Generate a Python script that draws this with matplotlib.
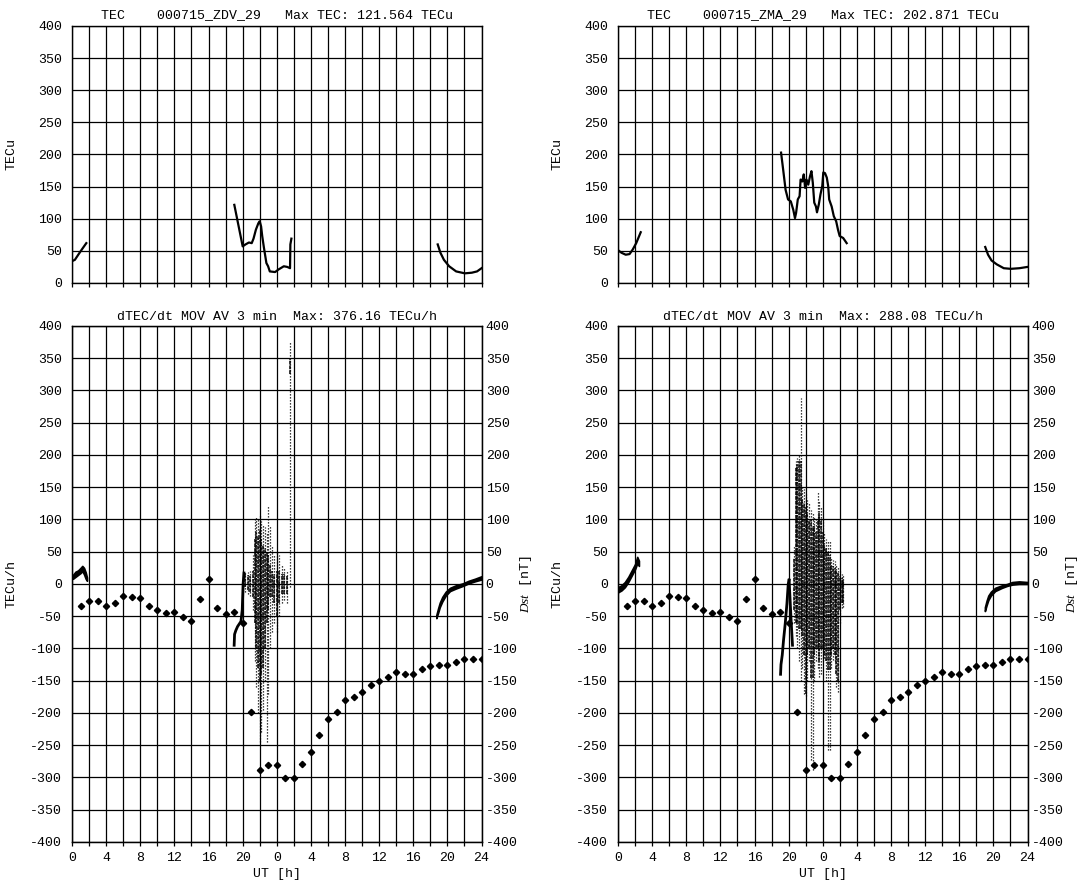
import numpy as np
import matplotlib
matplotlib.use("Agg")
import matplotlib.pyplot as plt
from matplotlib.ticker import MultipleLocator, FuncFormatter

plt.rcParams['font.family'] = ['Liberation Mono', 'DejaVu Sans Mono']
plt.rcParams['font.size'] = 9.5
plt.rcParams['axes.unicode_minus'] = False
plt.rcParams['mathtext.fontset'] = 'custom'
plt.rcParams['mathtext.it'] = 'Liberation Serif:italic'

# time axis: hours since 00 UT 15 July 2000 (two days)
dst_t = list(range(1, 49))
dst_nT = [-34, -26, -26, -34, -29, -19, -20, -22, -34, -40, -45, -43,
          -51, -58, -23, 7, -38, -46, -44, -61, -199, -289, -281, -281,
          -301, -301, -279, -260, -234, -209, -198, -180, -176, -167, -157, -150,
          -144, -137, -139, -139, -132, -127, -126, -125, -121, -117, -117, -117]

# ---- ZDV ----
zdv_title = "TEC    000715_ZDV_29   Max TEC: 121.564 TECu"
zdv_dtitle = "dTEC/dt MOV AV 3 min  Max: 376.16 TECu/h"
zdv_tec_t = [[0.0, 0.33, 0.73, 1.14, 1.67],
             [19.02, 20.0, 20.33, 20.73, 21.06, 21.27, 21.55, 21.84, 22.0, 22.16, 22.29,
              22.49, 22.78, 22.98, 23.18, 23.8, 24.2, 24.82, 25.22, 25.55, 25.59, 25.71],
             [42.86, 43.18, 43.59, 44.2, 45.02, 46.04, 46.86, 47.47, 48.0]]
zdv_tec_v = [[34, 36, 44, 52, 62],
             [121.6, 57, 60, 63, 62, 69, 83, 93, 96, 88, 73,
              55, 31, 26, 18, 17, 21, 26, 25, 23, 60, 69],
             [60, 47, 36, 26, 18, 15, 16, 18, 23]]

# dTEC/dt: thick bands (t, upper, lower)
zdv_band_t = [[0.1, 0.4, 0.7, 1.0, 1.2, 1.4, 1.6, 1.75],
              [42.7, 42.9, 43.1, 43.4, 43.8, 44.3, 45.0, 45.8, 46.5, 47.2, 48.0]]
zdv_band_hi = [[14, 19, 21, 25, 28, 25, 18, 10],
               [-48, -38, -29, -20, -12, -6, -2, 1, 5, 8, 12]]
zdv_band_lo = [[8, 11, 14, 17, 20, 15, 8, 5],
               [-53, -45, -36, -27, -18, -11, -7, -3, 1, 4, 7]]
zdv_trace_t = [[19.0, 19.05, 19.2, 19.4, 19.6, 19.8, 19.95, 20.05, 20.15]]
zdv_trace_v = [[-95, -78, -72, -66, -62, -58, -40, 0, 17]]
# dTEC/dt scatter columns during the storm
zdv_col_t = [20.3, 20.6, 20.9, 21.2, 21.4, 21.6, 21.8, 22.0, 22.2, 22.4, 22.6,
             22.8, 23.0, 23.2, 23.4, 23.7, 24.0, 24.3, 24.6, 24.9, 25.2, 25.5]
zdv_sparse_hi = [19, 18, 20, 45, 100, 104, 100, 108, 98, 92, 88,
                 80, 121, 90, 60, 45, 50, 45, 30, 25, 22, 376]
zdv_sparse_lo = [-12, -15, -18, -40, -120, -160, -200, -245, -230, -195, -150,
                 -245, -170, -100, -75, -60, -74, -50, -30, -25, -30, -5]
zdv_dense_hi = [17, 14, 13, 20, 70, 80, 75, 85, 70, 60, 55,
                50, 45, 30, 20, 15, 20, 20, 15, 15, 12, 350]
zdv_dense_lo = [-5, -10, -12, -20, -60, -100, -130, -150, -140, -130, -100,
                -60, -40, -20, -20, -30, -50, -30, -15, -15, -15, 325]

# ---- ZMA ----
zma_title = "TEC    000715_ZMA_29   Max TEC: 202.871 TECu"
zma_dtitle = "dTEC/dt MOV AV 3 min  Max: 288.08 TECu/h"
zma_tec_t = [[0.0, 0.41, 0.9, 1.35, 1.72, 2.13, 2.66],
             [19.11, 19.35, 19.64, 19.93, 20.25, 20.54, 20.74, 20.87, 21.07, 21.28, 21.4,
              21.6, 21.77, 21.93, 22.09, 22.3, 22.5, 22.67, 22.83, 23.0, 23.2, 23.32,
              23.53, 23.73, 23.94, 24.06, 24.26, 24.47, 24.63, 24.75, 25.04, 25.29,
              25.57, 25.78, 25.98, 26.39, 26.8],
             [43.04, 43.37, 43.78, 44.39, 45.21, 46.03, 47.05, 48.0]]
zma_tec_v = [[51, 47, 44, 45, 52, 62, 79],
             [202.9, 177, 145, 130, 127, 114, 101, 109, 130, 135, 161,
              158, 169, 148, 161, 153, 166, 174, 156, 125, 119, 110,
              122, 138, 151, 172, 171, 164, 151, 130, 119, 104,
              96, 83, 73, 70, 62],
             [56, 44, 35, 29, 23, 22, 23, 25]]

zma_band_t = [[0.0, 0.4, 0.8, 1.2, 1.6, 2.0, 2.25, 2.45],
              [43.0, 43.2, 43.4, 43.7, 44.2, 45.0, 45.6, 46.2, 47.0, 48.0]]
zma_band_hi = [[-5, -2, 3, 11, 21, 31, 42, 36],
               [-36, -26, -18, -12, -6, -2, 0, 3, 4, 3]]
zma_band_lo = [[-13, -10, -5, 3, 13, 23, 32, 28],
               [-42, -33, -25, -18, -11, -6, -3, -1, 0, 0]]
zma_trace_t = [[19.05, 19.1, 19.25, 19.4, 19.6, 19.8, 19.95, 20.05],
               [20.05, 20.15, 20.3, 20.45]]
zma_trace_v = [[-140, -125, -110, -87, -61, -30, 0, 6],
               [6, -20, -60, -95]]
zma_col_t = [20.6, 20.85, 21.0, 21.2, 21.4, 21.6, 21.8, 22.0, 22.2, 22.4, 22.6,
             22.8, 23.0, 23.2, 23.4, 23.6, 23.8, 24.0, 24.2, 24.4, 24.6, 24.8,
             25.0, 25.2, 25.4, 25.6, 25.8, 26.0, 26.2, 26.4]
zma_sparse_hi = [60, 190, 195, 200, 288, 150, 148, 140, 130, 125, 115,
                 110, 105, 100, 142, 130, 120, 100, 79, 70, 68, 68,
                 40, 37, 35, 30, 27, 20, 16, 15]
zma_sparse_lo = [-60, -80, -100, -120, -150, -130, -170, -173, -150, -120, -273,
                 -289, -150, -120, -130, -145, -140, -120, -115, -150, -257, -257,
                 -130, -118, -120, -160, -167, -60, -38, -35]
zma_dense_hi = [40, 180, 185, 190, 190, 130, 125, 120, 110, 100, 100,
                90, 90, 80, 100, 110, 100, 80, 60, 55, 50, 45,
                30, 28, 25, 20, 18, 12, 10, 8]
zma_dense_lo = [-40, -60, -60, -70, -70, -80, -110, -170, -110, -100, -146,
                -146, -110, -100, -100, -120, -100, -100, -110, -120, -133, -133,
                -110, -100, -110, -140, -150, -40, -30, -30]


def hour_label(t, pos):
    if int(round(t)) % 4:
        return ''
    if t == 48:
        return '24'
    return str(int(round(t)) % 24)


def style_axis(ax, show_x):
    ax.set_xlim(0, 48)
    ax.xaxis.set_major_locator(MultipleLocator(2))
    ax.yaxis.set_major_locator(MultipleLocator(50))
    ax.xaxis.set_major_formatter(FuncFormatter(hour_label))
    ax.grid(True, color='black', lw=0.9)
    ax.set_axisbelow(True)
    ax.tick_params(axis='x', length=3, width=0.9, pad=4, labelbottom=show_x)
    ax.tick_params(axis='y', length=0, pad=7)
    for s in ax.spines.values():
        s.set_linewidth(1.0)


fig = plt.figure(figsize=(10.9, 8.81), dpi=100)

stations = [
    (0.0661, zdv_title, zdv_dtitle, zdv_tec_t, zdv_tec_v, zdv_band_t, zdv_band_hi, zdv_band_lo,
     zdv_trace_t, zdv_trace_v, zdv_col_t, zdv_sparse_lo, zdv_sparse_hi, zdv_dense_lo, zdv_dense_hi),
    (0.567, zma_title, zma_dtitle, zma_tec_t, zma_tec_v, zma_band_t, zma_band_hi, zma_band_lo,
     zma_trace_t, zma_trace_v, zma_col_t, zma_sparse_lo, zma_sparse_hi, zma_dense_lo, zma_dense_hi),
]

for (x0, title, dtitle, tec_t, tec_v, band_t, band_hi, band_lo,
     trace_t, trace_v, col_t, sp_lo, sp_hi, de_lo, de_hi) in stations:
    # TEC panel
    ax1 = fig.add_axes([x0, 0.6788, 0.3757, 0.2917])
    style_axis(ax1, False)
    ax1.set_ylim(0, 400)
    for t, v in zip(tec_t, tec_v):
        ax1.plot(t, v, color='black', lw=1.6)
    ax1.set_title(title, fontsize=9.5, pad=6)
    ax1.set_ylabel('TECu')
    ax1.yaxis.set_label_coords(-0.134, 0.5)

    # dTEC/dt panel
    ax2 = fig.add_axes([x0, 0.0443, 0.3757, 0.5857])
    style_axis(ax2, True)
    ax2.set_ylim(-400, 400)
    for t, hi, lo in zip(band_t, band_hi, band_lo):
        ax2.fill_between(t, lo, hi, color='black', lw=1.2)
    for t, v in zip(trace_t, trace_v):
        ax2.plot(t, v, color='black', lw=2.0)
    ax2.vlines(col_t, sp_lo, sp_hi, color='black', lw=0.9, linestyles=(0, (1, 1.4)))
    ax2.vlines(col_t, de_lo, de_hi, color='black', lw=1.1, linestyles=(0, (2.5, 0.6)))
    ax2.set_title(dtitle, fontsize=9.5, pad=4)
    ax2.set_ylabel('TECu/h')
    ax2.yaxis.set_label_coords(-0.134, 0.5)
    ax2.set_xlabel('UT [h]', labelpad=3)

    # Dst on the right axis
    ax3 = ax2.twinx()
    ax3.set_ylim(-400, 400)
    ax3.yaxis.set_major_locator(MultipleLocator(50))
    ax3.tick_params(axis='y', length=0, pad=3)
    ax3.plot(dst_t, dst_nT, 'D', color='black', ms=3.2)
    ax3.set_ylabel('$Dst$ [nT]')
    ax3.yaxis.set_label_coords(1.09, 0.5)

fig.savefig('out.png', dpi=100)
